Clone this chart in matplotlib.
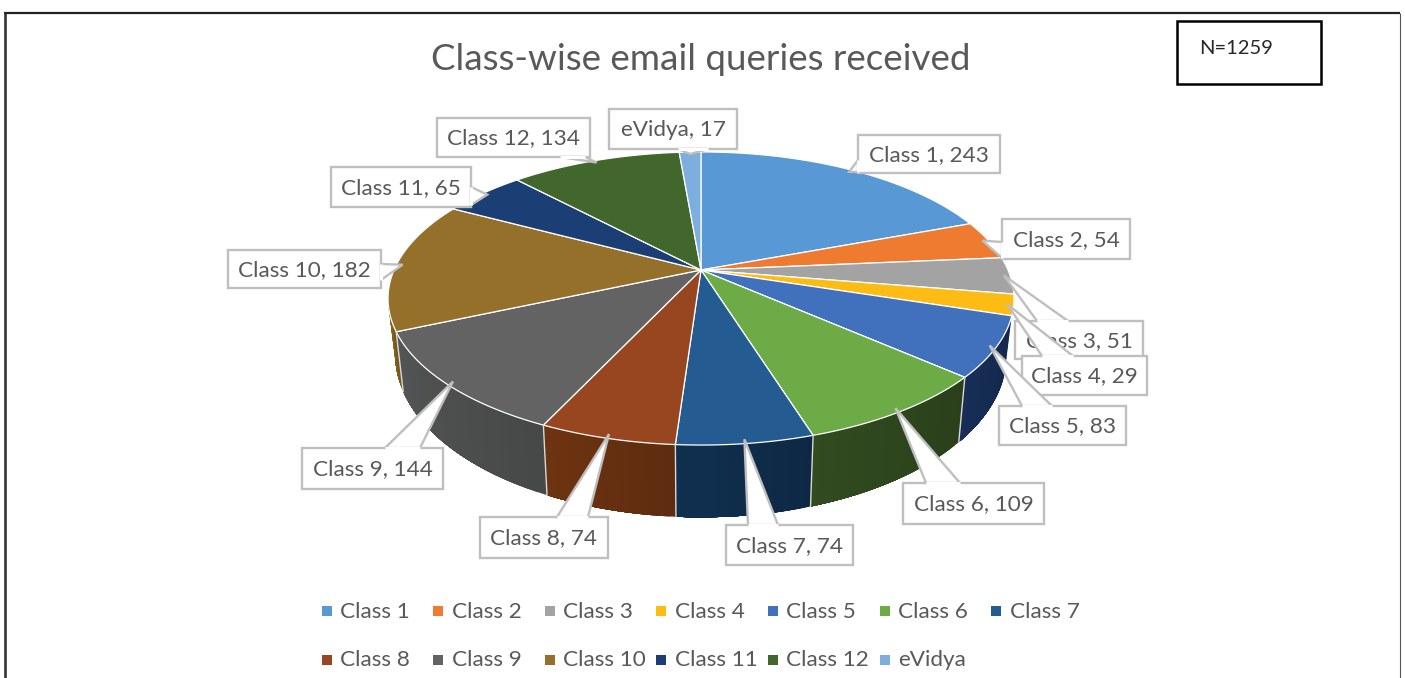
"""
Class-wise email queries - pseudo 3D pie drawn on a pixel sized axes
"""
import numpy as np
import matplotlib
matplotlib.use("Agg")
import matplotlib.pyplot as plt
from matplotlib.patches import Polygon, Rectangle

plt.rcParams["font.family"] = ["Lato", "DejaVu Sans"]

# ============================================================
# DATA
# ============================================================
categories = ["Class 1", "Class 2", "Class 3", "Class 4", "Class 5", "Class 6", "Class 7",
              "Class 8", "Class 9", "Class 10", "Class 11", "Class 12", "eVidya"]
queries = [243, 54, 51, 29, 83, 109, 74, 74, 144, 182, 65, 134, 17]
total_note = "N=1259"
title = "Class-wise email queries received"

# ============================================================
# STYLE / LAYOUT
# ============================================================
top_colors = ["#5898D4", "#EE7B30", "#A3A3A3", "#FCBC14", "#4170BD", "#6CAB45", "#245C91",
              "#98461F", "#636363", "#94702B", "#1B3F74", "#42672D", "#7CAFDD"]
side_colors = ["#3A6A96", "#A3541F", "#707070", "#B08400", "#152B50", "#2E451D", "#0F2C4A",
               "#663010", "#4D4F4F", "#7E601C", "#1A2F52", "#2C451C", "#55789A"]
TEXT = "#595959"
BOX = "#BFBFBF"

# label boxes (x0, y0, x1, y1) and where the callout leaves the box
label_boxes = [(858, 135, 1000, 173), (1002, 219, 1130, 259), (1015, 321, 1143, 359),
               (1022, 356, 1147, 395), (999, 406, 1126, 445), (903, 483, 1044, 524),
               (726, 525, 853, 565), (480, 517, 608, 558), (302, 448, 443, 489),
               (228, 250, 381, 288), (331, 167, 471, 207), (437, 118, 590, 157),
               (609, 109, 737, 149)]
callout_bases = [((858, 160), (858, 172)), ((1002, 242), (1002, 258)), ((1037, 321), (1068, 321)),
                 ((1042, 356), (1073, 356)), ((1022, 406), (1052, 406)), ((926, 483), (960, 483)),
                 ((748, 525), (778, 525)), ((557, 517), (588, 517)), ((385, 448), (420, 448)),
                 ((381, 264), (381, 280)), ((471, 187), (471, 205)), ((560, 157), (585, 157)),
                 ((678, 149), (708, 149))]

# perspective of the pie top
CX, CY = 701, 270
A, B, K = 307, 141, 0.1945
WALL_START, WALL_END = 108, 258   # visible part of the side wall, degrees clockwise from top


def project(theta, r=1.0):
    t = np.radians(theta)
    u, v = r * np.sin(t), r * np.cos(t)
    den = 1 + K * v
    return CX + A * u / den, CY - B * v / den


def drop(x, y):
    # top rim point -> matching point on the lower rim
    return CX + (x - CX) * 0.977, CY + (y - CY) * 1.11 + 53


def shade(color, f):
    rgb = np.array(matplotlib.colors.to_rgb(color)) * f
    return tuple(np.clip(rgb, 0, 1))


fig = plt.figure(figsize=(14.05, 6.78), dpi=100)
ax = fig.add_axes([0, 0, 1, 1])
ax.set_xlim(0, 1405)
ax.set_ylim(678, 0)
ax.axis("off")

# outer frame of the screenshot
ax.plot([4.5, 4.5], [678, 12.5], color="#333333", lw=1.9, solid_capstyle="butt")
ax.plot([3.5, 1400], [12.5, 12.5], color="#222222", lw=1.6, solid_capstyle="butt")
ax.plot([1400, 1400], [12.5, 678], color="#555555", lw=0.8, solid_capstyle="butt")

ax.text(701, 60, title, color=TEXT, fontsize=26.5, ha="center", va="center")

# N box
ax.add_patch(Rectangle((1177, 20.5), 144, 63, fc="white", ec="black", lw=1.8))
ax.text(1199, 49, total_note, color="#262626", fontsize=14.5, ha="left", va="center")

# ============================================================
# PIE
# ============================================================
edges = np.cumsum([0] + queries) / sum(queries) * 360
mids = (edges[:-1] + edges[1:]) / 2

# side wall first, the top goes over it
# each strip runs to the slice end and the next one paints over it, so no seams
for i in range(len(queries)):
    t0, t1 = max(edges[i], WALL_START), min(edges[i + 1], WALL_END)
    if t1 <= t0:
        continue
    steps = np.linspace(t0, t1, 25)
    for j in range(len(steps) - 1):
        xs, ys = project(steps[j:])
        xb, yb = drop(xs, ys)
        pts = list(zip(xs, ys)) + list(zip(xb[::-1], yb[::-1]))
        f = 0.92 + 0.16 * (j / (len(steps) - 2))
        ax.add_patch(Polygon(pts, fc=shade(side_colors[i], f), ec="none"))

for e in edges:
    if WALL_START < e < WALL_END:
        x0, y0 = project(e)
        x1, y1 = drop(x0, y0)
        ax.plot([x0, x1], [y0, y1], color="#D9D9D9", lw=1.0)

for i in range(len(queries)):
    ts = np.linspace(edges[i], edges[i + 1], 80)
    xs, ys = project(ts)
    pts = [(CX, CY)] + list(zip(xs, ys))
    ax.add_patch(Polygon(pts, fc=top_colors[i], ec="white", lw=0.9, joinstyle="round"))

# ============================================================
# DATA LABELS WITH CALLOUTS
# ============================================================
for i, (cat, val) in enumerate(zip(categories, queries)):
    x0, y0, x1, y1 = label_boxes[i]
    b0, b1 = callout_bases[i]
    tip = project(mids[i], 0.98)
    ax.add_patch(Rectangle((x0, y0), x1 - x0, y1 - y0, fc="white", ec=BOX, lw=1.7, zorder=3 + i))
    ax.add_patch(Polygon([tip, b0, b1], fc="white", ec=BOX, lw=1.7, joinstyle="miter", zorder=3 + i))
    # open the box where the callout joins it
    ax.plot([b0[0], b1[0]], [b0[1], b1[1]], color="white", lw=2.2, zorder=3 + i, solid_capstyle="butt")
    ax.text((x0 + x1) / 2, (y0 + y1) / 2 + 1, f"{cat}, {val}", color=TEXT, fontsize=16.2,
            ha="center", va="center", zorder=3 + i)

# ============================================================
# LEGEND
# ============================================================
for i, cat in enumerate(categories):
    col = i % 7
    y = 611 if i < 7 else 659.5
    x = 326.5 + col * 111.6
    ax.scatter([x], [y], marker="s", s=42, color=top_colors[i], linewidths=0)
    ax.text(x + 13.5, y + 1, cat, color=TEXT, fontsize=16.2, ha="left", va="center")

fig.savefig("out.png", dpi=100)
